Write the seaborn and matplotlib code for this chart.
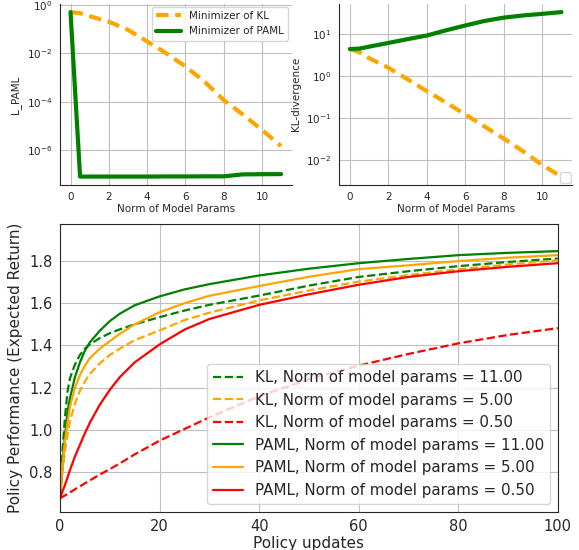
import numpy as np
import pandas as pd
import seaborn as sns
import matplotlib
matplotlib.use("Agg")
import matplotlib.pyplot as plt
from matplotlib.ticker import NullLocator

# ---- top panels data ----
norm_params = [0, 0.5, 1, 2, 3, 4, 5, 6, 7, 8, 9, 10, 11]
lpaml_kl = [0.5, 0.45, 0.34, 0.2, 0.093, 0.031, 0.01, 2.9e-3, 6.8e-4, 1.2e-4, 3e-5, 7e-6, 1.5e-6]
lpaml_paml = [0.5, 8.3e-8, 8.3e-8, 8.3e-8, 8.3e-8, 8.3e-8, 8.4e-8, 8.4e-8, 8.5e-8, 8.5e-8, 1.02e-7, 1.04e-7, 1.05e-7]
kldiv_kl = [4.3, 3.6, 2.6, 1.55, 0.82, 0.43, 0.23, 0.12, 0.062, 0.032, 0.016, 0.0075, 0.004]
kldiv_paml = [4.3, 4.4, 4.9, 6.0, 7.4, 9.0, 12.0, 15.6, 20.0, 24.0, 27.0, 29.5, 32.5]

# ---- bottom panel data ----
updates = [0, 0.5, 1, 1.5, 2, 3, 4, 5, 6, 8, 10, 12, 15, 20, 25, 30, 40, 50, 60, 70, 80, 90, 100]
kl_11 = [0.677, 0.90, 1.06, 1.18, 1.245, 1.31, 1.355, 1.385, 1.405, 1.435, 1.458, 1.476, 1.50, 1.534,
         1.565, 1.592, 1.636, 1.683, 1.724, 1.751, 1.775, 1.795, 1.811]
kl_5 = [0.677, 0.80, 0.90, 0.98, 1.04, 1.125, 1.185, 1.23, 1.266, 1.315, 1.355, 1.385, 1.425, 1.471,
        1.52, 1.555, 1.613, 1.66, 1.702, 1.733, 1.76, 1.783, 1.803]
kl_05 = [0.677, 0.684, 0.691, 0.698, 0.705, 0.72, 0.734, 0.748, 0.762, 0.79, 0.815, 0.842, 0.885, 0.95,
         1.005, 1.06, 1.16, 1.24, 1.305, 1.36, 1.41, 1.45, 1.482]
paml_11 = [0.677, 0.84, 0.97, 1.085, 1.15, 1.25, 1.32, 1.375, 1.415, 1.47, 1.515, 1.55, 1.59, 1.632,
           1.665, 1.69, 1.731, 1.763, 1.789, 1.809, 1.827, 1.838, 1.846]
paml_5 = [0.677, 0.83, 0.95, 1.03, 1.11, 1.20, 1.26, 1.305, 1.34, 1.385, 1.42, 1.455, 1.50, 1.557,
          1.60, 1.635, 1.681, 1.725, 1.761, 1.779, 1.799, 1.815, 1.827]
paml_05 = [0.677, 0.71, 0.74, 0.775, 0.81, 0.875, 0.93, 0.985, 1.035, 1.12, 1.19, 1.25, 1.32, 1.405,
           1.475, 1.525, 1.592, 1.642, 1.687, 1.724, 1.751, 1.772, 1.789]

labels_bottom = [
    "KL, Norm of model params = 11.00",
    "KL, Norm of model params = 5.00",
    "KL, Norm of model params = 0.50",
    "PAML, Norm of model params = 11.00",
    "PAML, Norm of model params = 5.00",
    "PAML, Norm of model params = 0.50",
]

sns.set_style("whitegrid", {
    "axes.edgecolor": "0.15",
    "grid.color": "#bfbfbf",
    "axes.linewidth": 1.2,
})
plt.rcParams['font.family'] = ['DejaVu Sans']

fig = plt.figure(figsize=(5.79, 5.5), dpi=100)
ax1 = fig.add_axes([0.1036, 0.664, 0.400, 0.329])
ax2 = fig.add_axes([0.586, 0.664, 0.402, 0.329])
ax3 = fig.add_axes([0.1036, 0.070, 0.860, 0.523])

# top-left
sns.lineplot(x=norm_params, y=lpaml_kl, ax=ax1, color="orange",
             linewidth=3, label="Minimizer of KL")
ax1.lines[-1].set_linestyle((0, (3, 1.6)))
sns.lineplot(x=norm_params, y=lpaml_paml, ax=ax1, color="green",
             linewidth=3, label="Minimizer of PAML")
ax1.set_yscale("log")
ax1.set_yticks([1, 1e-2, 1e-4, 1e-6])
ax1.yaxis.set_minor_locator(NullLocator())
ax1.set_xticks([0, 2, 4, 6, 8, 10])
ax1.set_xlabel("Norm of Model Params", fontsize=7.5, labelpad=1)
ax1.set_ylabel("L_PAML", fontsize=7.5)
ax1.tick_params(labelsize=7.5, pad=2)
ax1.legend(loc="upper right", fontsize=7.5, handlelength=2.4, borderaxespad=0.3)
for s in ["top", "right"]:
    ax1.spines[s].set_visible(False)

# top-right
sns.lineplot(x=norm_params, y=kldiv_kl, ax=ax2, color="orange", linewidth=3)
ax2.lines[-1].set_linestyle((0, (3, 1.6)))
sns.lineplot(x=norm_params, y=kldiv_paml, ax=ax2, color="green", linewidth=3)
ax2.set_yscale("log")
ax2.set_yticks([10, 1, 0.1, 0.01])
ax2.yaxis.set_minor_locator(NullLocator())
ax2.set_xticks([0, 2, 4, 6, 8, 10])
ax2.set_xlabel("Norm of Model Params", fontsize=7.5, labelpad=1)
ax2.set_ylabel("KL-divergence", fontsize=7.5)
ax2.tick_params(labelsize=7.5, pad=2)
ax2.legend(handles=[], labels=[], loc="lower right", borderaxespad=0.1)
for s in ["top", "right"]:
    ax2.spines[s].set_visible(False)

# bottom
series = [kl_11, kl_5, kl_05, paml_11, paml_5, paml_05]
colors = ["green", "orange", "red", "green", "orange", "red"]
styles = ["--", "--", "--", "-", "-", "-"]
for ys, c, ls, lab in zip(series, colors, styles, labels_bottom):
    sns.lineplot(x=updates, y=ys, ax=ax3, color=c, linestyle=ls, linewidth=1.6, label=lab)
ax3.set_xlim(0, 100)
ax3.set_ylim(0.615, 1.975)
ax3.set_yticks([0.8, 1.0, 1.2, 1.4, 1.6, 1.8])
ax3.set_xlabel("Policy updates", fontsize=11, labelpad=1)
ax3.set_ylabel("Policy Performance (Expected Return)", fontsize=11)
ax3.tick_params(labelsize=10.5, pad=2)
ax3.legend(loc="lower right", fontsize=10.9, handlelength=2, framealpha=0.8)

fig.savefig("out.png", dpi=100)
